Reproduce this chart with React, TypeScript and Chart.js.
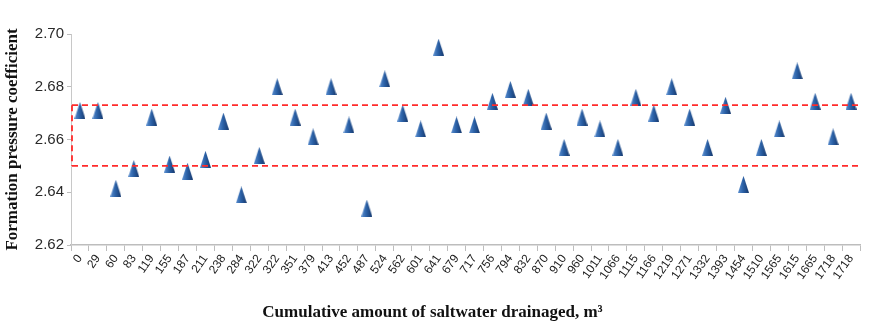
import React, { useEffect, useRef } from "react";
import { Chart, registerables } from "chart.js";

Chart.register(...registerables);

const categories = [
  "0", "29", "60", "83", "119", "155", "187", "211", "238", "284", "322",
  "322", "351", "379", "413", "452", "487", "524", "562", "601", "641", "679",
  "717", "756", "794", "832", "870", "910", "960", "1011", "1066", "1115",
  "1166", "1219", "1271", "1332", "1393", "1454", "1510", "1565", "1615",
  "1665", "1718", "1718",
];

const pressureCoefficient = [
  2.671, 2.671, 2.6415, 2.649, 2.6685, 2.6507, 2.648, 2.6525, 2.667, 2.639,
  2.654, 2.680, 2.6685, 2.661, 2.680, 2.6655, 2.634, 2.683, 2.670, 2.664,
  2.695, 2.6655, 2.6655, 2.6745, 2.679, 2.676, 2.667, 2.657, 2.6685, 2.664,
  2.657, 2.676, 2.670, 2.680, 2.6685, 2.657, 2.673, 2.643, 2.657, 2.664,
  2.686, 2.6745, 2.661, 2.6745,
];

const bandLimits = [2.65, 2.673];

const yTicks = [2.62, 2.64, 2.66, 2.68, 2.7];

function makeMarker(): HTMLCanvasElement {
  const c = document.createElement("canvas");
  const w = 11;
  const h = 17;
  c.width = w;
  c.height = h;
  const g = c.getContext("2d")!;
  const grad = g.createLinearGradient(0, 0, w, 0);
  grad.addColorStop(0, "#5b8fd0");
  grad.addColorStop(0.45, "#2c62a8");
  grad.addColorStop(1, "#16386c");
  g.fillStyle = grad;
  g.beginPath();
  g.moveTo(w / 2, 0);
  g.lineTo(w, h);
  g.lineTo(0, h);
  g.closePath();
  g.fill();
  return c;
}

const bandPlugin = {
  id: "bandPlugin",
  afterDatasetsDraw(chart: any) {
    const { ctx, chartArea, scales } = chart;
    const y = scales.y;
    ctx.save();
    ctx.strokeStyle = "#ff2b2b";
    ctx.lineWidth = 1.8;
    ctx.setLineDash([6, 4]);
    const ys = bandLimits.map((v) => y.getPixelForValue(v));
    ys.forEach((py: number) => {
      ctx.beginPath();
      ctx.moveTo(chartArea.left + 1, py);
      ctx.lineTo(chartArea.right + 2, py);
      ctx.stroke();
    });
    ctx.beginPath();
    ctx.moveTo(chartArea.left + 1, Math.min(...ys));
    ctx.lineTo(chartArea.left + 1, Math.max(...ys));
    ctx.stroke();
    ctx.restore();
  },
};

const whiteBg = {
  id: "whiteBg",
  beforeDraw(chart: any) {
    const { ctx, width, height } = chart;
    ctx.save();
    ctx.fillStyle = "#ffffff";
    ctx.fillRect(0, 0, width, height);
    ctx.restore();
  },
};

export default function App() {
  const ref = useRef<HTMLCanvasElement>(null);
  useEffect(() => {
    if (!ref.current) return;
    const marker = makeMarker();
    const chart = new Chart(ref.current, {
      type: "line",
      data: {
        labels: categories,
        datasets: [
          {
            data: pressureCoefficient,
            showLine: false,
            pointStyle: marker as any,
            pointRadius: 8,
            pointHoverRadius: 8,
          },
        ],
      },
      options: {
        animation: false,
        responsive: true,
        maintainAspectRatio: false,
        layout: { padding: { top: 34, right: 4, left: 0, bottom: 0 } },
        plugins: {
          legend: { display: false },
          tooltip: { enabled: false },
          title: {
            display: true,
            position: "bottom",
            text: "Cumulative amount of saltwater drainaged, m³",
            color: "#111",
            font: { family: "'Liberation Serif', 'Times New Roman', serif", size: 17, weight: "bold" },
            padding: { top: 3, bottom: 4 },
          },
        },
        scales: {
          x: {
            type: "category",
            offset: true,
            grid: {
              offset: true,
              drawOnChartArea: false,
              drawTicks: true,
              tickLength: 6,
              color: "#bdbdbd",
            },
            border: { display: true, color: "#bdbdbd", width: 1.5 },
            ticks: {
              autoSkip: false,
              maxRotation: 55,
              minRotation: 55,
              padding: 1,
              color: "#1a1a1a",
              font: { family: "'Liberation Sans', Arial, sans-serif", size: 12 },
            },
            afterFit(scale: any) {
              scale.height = 54.6;
            },
          },
          y: {
            min: 2.62,
            max: 2.7,
            afterBuildTicks(scale: any) {
              scale.ticks = yTicks.map((v) => ({ value: v }));
            },
            grid: {
              drawOnChartArea: false,
              drawTicks: true,
              tickLength: 4,
              color: "#bdbdbd",
            },
            border: { display: true, color: "#c8c8c8", width: 1 },
            ticks: {
              padding: 3,
              color: "#2a2a2a",
              font: { family: "'Liberation Sans Narrow', 'Liberation Sans', Arial, sans-serif", size: 15 },
              callback: (v: any) => Number(v).toFixed(2),
            },
            title: {
              display: true,
              text: "Formation pressure coefficient",
              color: "#111",
              font: { family: "'Liberation Serif', 'Times New Roman', serif", size: 17, weight: "bold" },
              padding: { top: 2, bottom: 2 },
            },
            afterFit(scale: any) {
              scale.width = 71;
            },
          },
        },
      },
      plugins: [whiteBg, bandPlugin],
    });
    return () => chart.destroy();
  }, []);
  return (
    <div style={{ position: "fixed", left: 0, top: 0, width: 869, height: 327, background: "#fff" }}>
      <canvas ref={ref} />
    </div>
  );
}
